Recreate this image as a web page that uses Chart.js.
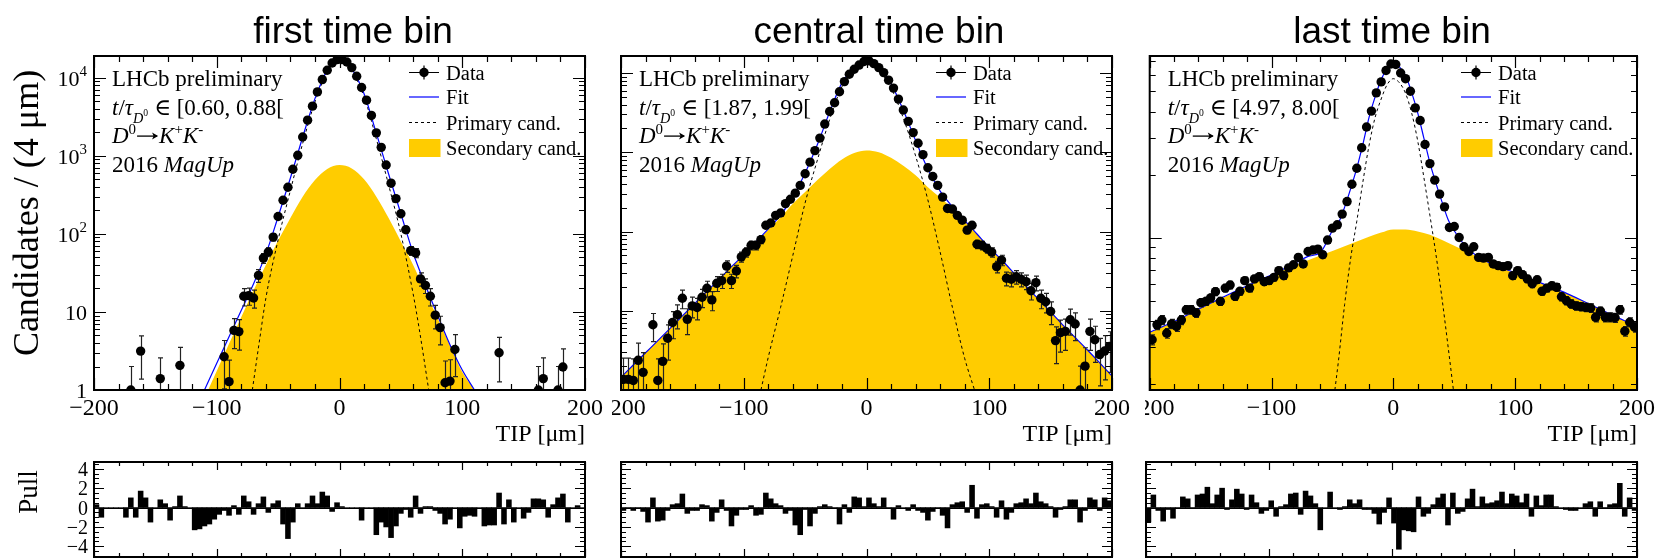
<!DOCTYPE html>
<html>
<head>
<meta charset="utf-8">
<script src="https://cdn.jsdelivr.net/npm/chart.js@4/dist/chart.umd.min.js"></script>
<style>
  body { margin: 0; background: #fff; }
  #wrap { position: relative; width: 1655px; height: 559px; overflow: hidden; background: #fff; }
  #wrap canvas { position: absolute; }
</style>
</head>
<body>
<div id="wrap">
  <canvas id="m1" width="612" height="455" style="left:0;top:0"></canvas>
  <canvas id="m2" width="530" height="455" style="left:612px;top:0"></canvas>
  <canvas id="m3" width="510" height="455" style="left:1145px;top:0"></canvas>
  <canvas id="p1" width="612" height="104" style="left:0;top:455px"></canvas>
  <canvas id="p2" width="530" height="104" style="left:612px;top:455px"></canvas>
  <canvas id="p3" width="510" height="104" style="left:1145px;top:455px"></canvas>
</div>
<script>
/* TIP fits in three decay-time bins */

// 4 um bins from -200 to 200
const tipBins = Array.from({ length: 100 }, (_, i) => -198 + 4 * i);

const panelTitles = ['first time bin', 'central time bin', 'last time bin'];
const timeRanges = ['[0.60, 0.88[', '[1.87, 1.99[', '[4.97, 8.00['];

const tipTicks = [-200, -100, 0, 100, 200];
const tipTickLabels = ['\u2212200', '\u2212100', '0', '100', '200'];
const tipMinorTicks = [-200, -180, -160, -140, -120, -100, -80, -60, -40, -20, 0,
  20, 40, 60, 80, 100, 120, 140, 160, 180, 200];
const countTicks = [1, 10, 100, 1000, 10000];
const countTickLabels = [['1', ''], ['10', ''], ['10', '2'], ['10', '3'], ['10', '4']];
const pullTicks = [-4, -2, 0, 2, 4];
const pullTickLabels = ['\u22124', '\u22122', '0', '2', '4'];

/* first time bin */
const data1 = [null, null, null, null, null, null, null, 1.0, null, 3.15,
  null, null, null, 1.4, null, null, null, 2.07, null, null,
  null, null, null, null, null, null, 2.67, 1.28, 5.8, 5.6,
  15.9, 16.2, 15.1, 29.4, 49, 58.6, 91, 167, 270, 396,
  672, 1015, 1740, 2865, 4330, 6590, 9480, 12470, 15450, 17070,
  17070, 15920, 13490, 10450, 7500, 5160, 3290, 1970, 1283, 763,
  446, 283, 181, 113, 61, 57, 26.5, 21.9, 15.9, 9.1,
  6.3, 1.24, 1.3, 3.3, null, null, null, null, null, null,
  null, null, 3.0, null, null, null, null, null, null, null,
  1.0, 1.4, null, null, 1.0, 1.97, null, null, null, null];
const fitX1 = [-110, -100, -90, -80, -70, -60, -50, -40, -30, -20, -10, -5, 0, 5, 10,
  20, 30, 40, 50, 60, 70, 80, 90, 100, 110];
const fitY1 = [1, 2.2, 4.8, 10.5, 23, 55, 166, 520, 1740, 5400, 12600, 16000, 17600, 16100, 13100,
  6250, 1950, 585, 181, 57, 22, 9, 3.8, 1.8, 1];
const primX1 = [-71, -65, -60, -50, -40, -30, -20, -10, -5, 0, 5, 10, 20, 30, 40, 50, 60, 65, 72.7];
const primY1 = [1, 4.5, 15, 84, 360, 1440, 4900, 11900, 15200, 16840, 15400, 12400, 5750, 1650, 425, 100, 17, 6, 1];
const secX1 = [-107, -100, -90, -80, -70, -60, -50, -40, -30, -20, -10, 0, 10, 20, 30, 40,
  50, 60, 70, 80, 90, 100, 110];
const secY1 = [1, 1.75, 3.9, 8.6, 19, 40, 82, 160, 300, 490, 680, 760, 690, 500, 300, 160,
  80, 40, 18, 8.3, 3.7, 1.7, 1];
const pull1 = [0.3, -1.0, 0, 0, 0, 0, -1.0, 1.0, -1.0, 1.7,
  1.0, -1.5, 0, 0.8, 0.4, -1.3, 0.1, 1.2, 0.1, 0,
  -2.3, -2.2, -1.9, -1.7, -1.2, -0.7, -0.3, -0.8, 0.2, -0.7,
  1.2, 0.6, -0.7, 0.4, 1.1, -0.5, 0.4, 0.7, -1.7, -3.2,
  -1.5, 0.4, 0, 0.4, 1.2, 0.4, 1.6, 1.2, -0.4, 0.5,
  0.1, 0, 0, 0, -1.3, 0, 0, -2.8, -1.5, -2.0,
  -3.1, -1.9, -0.6, -0.2, -1.0, 1.2, -0.6, 0.1, 0.1, -0.3,
  -0.6, -1.7, -1.2, 0, -2.1, -0.9, -0.8, -0.9, 0, -1.9,
  -1.8, -1.8, 1.5, -1.7, 0.8, -1.5, 0, -1.1, -0.5, 0.9,
  0.9, 0.8, -1.0, 0.3, 1.0, 1.4, -1.5, 0, 0.2, 0];

/* central time bin */
const data2 = [1.36, 1.36, 1.32, 2.37, 1.67, null, 6.65, 1.32, 2.3, 4.5,
  7.1, 8.9, 14.4, 7.8, 11.5, 11, 14.8, 19.2, 13.7, 22.2,
  24, 36.6, 24, 31.7, 47.9, 55, 67, 67, 79, 120,
  128, 160, 171, 225, 255, 305, 382, 536, 750, 1050,
  1510, 2270, 3270, 4210, 5800, 7800, 9660, 11170, 12600, 14000,
  14300, 13130, 11700, 10120, 8120, 6450, 4690, 3410, 2455, 1770,
  1300, 935, 637, 495, 382, 272, 195, 192, 160, 139,
  104, 120, 69, 67, 61, 55, 36, 43.6, 25.7, 25,
  26.9, 25, 23.3, 17.9, 22.6, 14.4, 13, 9.8, 4.2, 5.3,
  5.5, 7.7, 6.8, 1.0, 2.0, 5.5, 4.3, 2.8, 3.1, 3.55];
const fitX2 = [-200, -190, -180, -170, -160, -150, -140, -130, -120, -110, -100, -90, -80, -70,
  -60, -50, -40, -30, -20, -10, -5, 0, 5, 10, 20, 30, 40, 50, 60, 70, 80, 90, 100,
  110, 120, 130, 140, 150, 160, 170, 180, 190, 200];
const fitY2 = [1.45, 2.07, 2.95, 4.2, 6.0, 8.6, 12.3, 17.6, 25, 36, 51, 74, 108, 161,
  274, 546, 1250, 3220, 7510, 11600, 13900, 14600, 13800, 11900, 7350, 3380, 1410, 613, 324, 206, 137, 93, 63,
  44, 30, 20.4, 14, 9.7, 6.6, 4.6, 3.2, 2.2, 1.5];
const primX2 = [-86, -80, -70, -60, -50, -40, -30, -20, -10, -5, 0, 5, 10, 20, 30, 40, 50, 60, 70, 80, 88];
const primY2 = [1, 2.6, 11, 50, 230, 800, 2600, 6700, 10600, 12900, 13550, 12800, 10900, 6500, 2700, 900, 250, 55, 11, 2.5, 1];
const secX2 = [-200, -190, -180, -170, -160, -150, -140, -130, -120, -110, -100, -90, -80, -70,
  -60, -50, -40, -30, -20, -10, 0, 10, 20, 30, 40, 50, 60, 70, 80, 90, 100,
  110, 120, 130, 140, 150, 160, 170, 180, 190, 200];
const secY2 = [1.45, 2.07, 2.95, 4.2, 6.0, 8.6, 12.3, 17.6, 25, 36, 51, 73, 105, 150,
  224, 316, 447, 617, 813, 977, 1050, 1000, 851, 676, 513, 363, 269, 195, 135, 93, 63,
  44, 30, 20.4, 14, 9.7, 6.6, 4.6, 3.2, 2.2, 1.5];
const pull2 = [-0.3, -0.1, -0.3, -0.1, -0.4, -1.5, 1.0, -1.4, -1.3, -0.3,
  0.3, 0.4, 1.4, -0.6, -0.3, -0.3, 0.3, 0.2, -1.4, -0.5,
  0.8, -0.3, -1.9, -0.8, -0.2, -0.2, 0.2, -0.8, -0.7, 1.5,
  0.9, 0.4, 0.2, -0.6, -0.3, -1.8, -2.8, -0.2, -1.9, -0.6,
  0.1, 0.3, 0.1, -0.1, -1.7, 0.3, -0.5, 1.1, 1.0, 0.1,
  1.0, 0.4, 0.1, 1.0, -0.1, -1.2, 0.2, 0, -0.3, 0.3,
  -0.3, -0.5, -1.3, -0.4, -0.1, -0.8, -2.1, 0.3, 0.5, 0.6,
  -0.5, 2.3, -1.1, 0.3, 0.4, 0.1, -1.0, 0.7, -1.2, -0.5,
  0.4, 0.5, 0.9, 0.4, 1.5, 0.6, 0.4, 0.1, -1.0, -0.2,
  0.1, 0.8, 0.8, -1.5, -0.3, 1.0, 0.8, -0.3, 1.0, 0.7];

/* last time bin */
const data3 = [326, 384, 405, 350, 388, 377, 405, 453, 453, 438,
  490, 497, 516, 553, 497, 575, 595, 525, 555, 624,
  575, 636, 652, 617, 624, 647, 697, 659, 718, 743,
  806, 750, 860, 874, 883, 830, 975, 1112, 1153, 1297,
  1489, 1802, 2148, 2692, 3379, 4027, 4920, 5550, 6290, 6760,
  6720, 6120, 5750, 5010, 4170, 3630, 2790, 2260, 1884, 1616,
  1405, 1120, 1132, 1003, 906, 860, 906, 806, 800, 806,
  750, 736, 728, 736, 659, 697, 667, 636, 603, 630,
  555, 575, 590, 580, 523, 501, 483, 473, 469, 465,
  462, 417, 446, 417, 417, 415, 453, 358, 395, 374];
const fitX3 = [-200, -180, -160, -140, -120, -100, -80, -70, -60, -50, -45, -40, -35, -30, -25,
  -20, -15, -10, -5, 0, 5, 10, 15, 20, 25, 30, 35, 40, 45, 50, 55, 60, 70, 80,
  100, 120, 140, 160, 180, 200];
const fitY3 = [354, 398, 456, 520, 590, 665, 760, 815, 850, 1080, 1180, 1400, 1720, 2150, 2800,
  3750, 4700, 5700, 6450, 6850, 6550, 5950, 4950, 3950, 3000, 2280, 1820, 1480, 1220, 1080, 980, 900, 810, 755,
  680, 612, 550, 485, 427, 376];
const primX3 = [-48, -45, -40, -35, -30, -25, -20, -15, -10, -5, 0, 5, 10, 15, 20, 25, 30, 35, 40, 45, 49.3];
const primY3 = [187.5, 260, 480, 800, 1200, 1850, 2750, 3750, 4600, 5400, 5750, 5500, 4900, 3950, 2900, 1950, 1280, 830, 510, 300, 187.5];
const secX3 = [-200, -180, -160, -140, -120, -100, -80, -60, -40, -20, -10, 0, 10, 20, 30, 40,
  60, 80, 100, 120, 140, 160, 180, 200];
const secY3 = [354, 398, 456, 517, 586, 660, 741, 822, 912, 1012, 1059, 1096, 1096, 1072, 1035, 977,
  861, 753, 676, 610, 550, 485, 427, 376];
const pull3 = [-1.5, 1.3, -0.3, -1.4, -0.2, -1.1, -0.1, 1.1, 0.9, -0.1,
  1.3, 1.4, 2.1, 0.4, 1.3, 2.0, -0.2, 0.8, 1.9, 1.4,
  -0.2, 1.3, 0.5, -0.6, -0.3, 0.7, -0.9, 0.1, 0.3, 1.4,
  1.5, -0.7, 1.7, 1.2, 0.4, -2.3, 0, 1.6, 0, -0.2,
  0.1, 0.8, 0.4, 0.8, -0.2, -0.2, -0.6, -1.7, -0.5, 1.0,
  -1.6, -4.3, -2.3, -2.4, -2.5, 1.1, -0.9, -0.6, 0.3, 1.0,
  1.4, -1.8, 1.5, -0.6, -0.4, 0.9, 1.9, 0.1, 1.1, 0.4,
  0.5, 0.7, 1.6, 0.4, 1.4, 1.2, 0.5, 1.4, -0.9, 1.2,
  0.2, 1.3, 1.3, 0.1, 0, -0.2, -0.3, -0.3, 0, 0.4,
  0.6, -0.9, 0.6, -0.1, 0.3, 0.4, 2.5, -0.9, 1.0, -0.3];

const SERIF = '"Liberation Serif", "DejaVu Serif", serif';
const SANS = '"Liberation Sans", Arial, sans-serif';
const YELLOW = '#ffcc00';

const pts = (xs, ys) => xs.map((x, i) => ({ x: x, y: ys[i] }));
const binPts = (vals) => tipBins.map((x, i) => ({ x: x, y: vals[i] })).filter(p => p.y !== null);

// text with italics / sub- and superscripts, parts = [{t, i, s, dy}]
// a part with arrow: true is a drawn right arrow of width p.w em
function partWidth(ctx, p, size) {
  if (p.arrow) return p.w * size;
  ctx.font = (p.i ? 'italic ' : '') + (size * (p.s || 1)) + 'px ' + SERIF;
  return ctx.measureText(p.t).width;
}
function richWidth(ctx, parts, size) {
  return parts.reduce((w, p) => w + partWidth(ctx, p, size), 0);
}
function drawRich(ctx, x, y, parts, size) {
  parts.forEach(p => {
    const w = partWidth(ctx, p, size);
    if (p.arrow) {
      const ya = y - 0.3 * size;
      ctx.save();
      ctx.lineWidth = 1.3;
      ctx.beginPath();
      ctx.moveTo(x + 1, ya); ctx.lineTo(x + w - 2, ya);
      ctx.stroke();
      ctx.beginPath();
      ctx.moveTo(x + w - 1, ya);
      ctx.lineTo(x + w - 7, ya - 3.5);
      ctx.lineTo(x + w - 5.5, ya);
      ctx.lineTo(x + w - 7, ya + 3.5);
      ctx.closePath();
      ctx.fill();
      ctx.restore();
    } else {
      ctx.fillText(p.t, x, y + (p.dy || 0) * size);
    }
    x += w;
  });
}

// vertical Poisson error bars under the data markers
const errorBars = {
  id: 'errorBars',
  beforeDatasetDraw(chart, args) {
    if (args.index !== 0) return;
    const { ctx, chartArea: a } = chart;
    const ys = chart.scales.y;
    const ds = chart.data.datasets[0].data;
    ctx.save();
    ctx.beginPath();
    ctx.rect(a.left, a.top, a.right - a.left, a.bottom - a.top);
    ctx.clip();
    ctx.strokeStyle = '#222';
    ctx.lineWidth = 1.2;
    ctx.beginPath();
    args.meta.data.forEach((el, i) => {
      const v = ds[i].y;
      const e = Math.sqrt(v);
      const px = Math.round(el.x) + 0.5;
      const hi = ys.getPixelForValue(v + e);
      const lo = v - e > ys.min ? ys.getPixelForValue(v - e) : a.bottom + 2;
      ctx.moveTo(px, lo); ctx.lineTo(px, hi);
      ctx.moveTo(px - 2.5, hi); ctx.lineTo(px + 2.5, hi);
      if (v - e > ys.min) { ctx.moveTo(px - 2.5, lo); ctx.lineTo(px + 2.5, lo); }
    });
    ctx.stroke();
    ctx.restore();
  }
};

function mainDecor(cfg) {
  return {
    id: 'mainDecor',
    afterDraw(chart) {
      const { ctx, chartArea: a } = chart;
      const xs = chart.scales.x, ys = chart.scales.y;
      ctx.save();
      ctx.fillStyle = '#000';
      ctx.strokeStyle = '#000';

      // inward ticks on all four sides
      ctx.lineWidth = 1.2;
      ctx.beginPath();
      tipMinorTicks.forEach(v => {
        const px = Math.round(xs.getPixelForValue(v)) + 0.5;
        const len = tipTicks.includes(v) ? 12 : 6;
        ctx.moveTo(px, a.bottom); ctx.lineTo(px, a.bottom - len);
        ctx.moveTo(px, a.top); ctx.lineTo(px, a.top + len);
      });
      const d0 = Math.floor(Math.log10(ys.min)), d1 = Math.ceil(Math.log10(ys.max));
      for (let d = d0; d <= d1; d++) {
        for (let m = 1; m <= 9; m++) {
          const v = m * Math.pow(10, d);
          if (v < ys.min * 0.999 || v > ys.max) continue;
          const py = Math.round(ys.getPixelForValue(v)) + 0.5;
          const len = m === 1 ? 12 : 6;
          ctx.moveTo(a.left, py); ctx.lineTo(a.left + len, py);
          ctx.moveTo(a.right, py); ctx.lineTo(a.right - len, py);
        }
      }
      ctx.stroke();
      ctx.lineWidth = 2;
      ctx.strokeRect(a.left, a.top, a.right - a.left, a.bottom - a.top);

      // x axis
      ctx.font = '24px ' + SERIF;
      ctx.textAlign = 'center';
      ctx.textBaseline = 'alphabetic';
      tipTicks.forEach((v, i) => ctx.fillText(tipTickLabels[i], xs.getPixelForValue(v), a.bottom + 25));
      ctx.textAlign = 'right';
      ctx.fillText('TIP [\u03bcm]', a.right, a.bottom + 51);

      // y axis labels only on the first panel
      if (cfg.yLabels) {
        ctx.textAlign = 'left';
        countTicks.forEach((v, i) => {
          const parts = [{ t: countTickLabels[i][0] }];
          if (countTickLabels[i][1]) parts.push({ t: countTickLabels[i][1], s: 0.68, dy: -0.45 });
          const w = richWidth(ctx, parts, 22);
          drawRich(ctx, a.left - 7 - w, ys.getPixelForValue(v) + 8, parts, 22);
        });
        ctx.save();
        ctx.translate(38, 213);
        ctx.rotate(-Math.PI / 2);
        ctx.textAlign = 'center';
        ctx.font = '36px ' + SERIF;
        ctx.fillText('Candidates / (4 \u03bcm)', 0, 0);
        ctx.restore();
      }

      // panel title
      ctx.font = '37px ' + SANS;
      ctx.textAlign = 'center';
      ctx.fillText(cfg.title, cfg.titleX, 43);

      // labels in the top left corner
      ctx.textAlign = 'left';
      const tx = a.left + 18, fs = 23;
      drawRich(ctx, tx, a.top + 30, [{ t: 'LHCb preliminary' }], fs);
      drawRich(ctx, tx, a.top + 58.5, [
        { t: 't', i: 1 }, { t: '/' }, { t: '\u03c4', i: 1 },
        { t: 'D', i: 1, s: 0.62, dy: 0.36 }, { t: '0', s: 0.42, dy: 0.06 },
        { t: ' \u2208 ' + cfg.range }], fs);
      drawRich(ctx, tx, a.top + 87, [
        { t: 'D', i: 1 }, { t: '0', s: 0.65, dy: -0.4 }, { arrow: true, w: 1.0 },
        { t: 'K', i: 1 }, { t: '+', s: 0.65, dy: -0.4 },
        { t: 'K', i: 1 }, { t: '-', s: 0.65, dy: -0.4 }], fs);
      drawRich(ctx, tx, a.top + 115.5, [{ t: '2016 ' }, { t: 'MagUp', i: 1 }], fs);

      // legend
      const lx0 = a.right - 176, lx1 = a.right - 146, ltx = a.right - 139;
      const rows = [a.top + 16.5, a.top + 41, a.top + 66.5, a.top + 92];
      ctx.lineWidth = 1.2;
      ctx.beginPath();
      ctx.moveTo(lx0, rows[0]); ctx.lineTo(lx1, rows[0]);
      ctx.moveTo((lx0 + lx1) / 2, rows[0] - 7); ctx.lineTo((lx0 + lx1) / 2, rows[0] + 7);
      ctx.stroke();
      ctx.beginPath();
      ctx.arc((lx0 + lx1) / 2, rows[0], 4.7, 0, Math.PI * 2);
      ctx.fill();
      ctx.strokeStyle = '#0000ff';
      ctx.beginPath(); ctx.moveTo(lx0, rows[1]); ctx.lineTo(lx1, rows[1]); ctx.stroke();
      ctx.strokeStyle = '#000';
      ctx.lineWidth = 1;
      ctx.setLineDash([3, 3]);
      ctx.beginPath(); ctx.moveTo(lx0, rows[2]); ctx.lineTo(lx1, rows[2]); ctx.stroke();
      ctx.setLineDash([]);
      ctx.fillStyle = YELLOW;
      ctx.fillRect(lx0, rows[3] - 9, 31.5, 18);
      ctx.fillStyle = '#000';
      ctx.font = '20.5px ' + SERIF;
      ['Data', 'Fit', 'Primary cand.', 'Secondary cand.'].forEach((s, i) => ctx.fillText(s, ltx, rows[i] + 7));
      ctx.restore();
    }
  };
}

function pullDecor(cfg) {
  return {
    id: 'pullDecor',
    afterDraw(chart) {
      const { ctx, chartArea: a } = chart;
      const xs = chart.scales.x, ys = chart.scales.y;
      ctx.save();
      ctx.strokeStyle = '#000';
      ctx.fillStyle = '#000';
      const y0 = Math.round(ys.getPixelForValue(0)) + 0.5;
      ctx.lineWidth = 1;
      ctx.beginPath(); ctx.moveTo(a.left, y0); ctx.lineTo(a.right, y0); ctx.stroke();

      ctx.lineWidth = 1.2;
      ctx.beginPath();
      tipMinorTicks.forEach(v => {
        const px = Math.round(xs.getPixelForValue(v)) + 0.5;
        const len = tipTicks.includes(v) ? 8 : 4;
        ctx.moveTo(px, a.bottom); ctx.lineTo(px, a.bottom - len);
        ctx.moveTo(px, a.top); ctx.lineTo(px, a.top + len);
      });
      for (let v = -5; v <= 4.5; v += 0.5) {
        const py = Math.round(ys.getPixelForValue(v)) + 0.5;
        const len = pullTicks.includes(v) ? 10 : 5;
        ctx.moveTo(a.left, py); ctx.lineTo(a.left + len, py);
        ctx.moveTo(a.right, py); ctx.lineTo(a.right - len, py);
      }
      ctx.stroke();
      ctx.lineWidth = 2;
      ctx.strokeRect(a.left, a.top, a.right - a.left, a.bottom - a.top);

      if (cfg.yLabels) {
        ctx.font = '20px ' + SERIF;
        ctx.textAlign = 'right';
        pullTicks.forEach((v, i) => ctx.fillText(pullTickLabels[i], a.left - 6, ys.getPixelForValue(v) + 7));
        ctx.save();
        ctx.translate(37, 37);
        ctx.rotate(-Math.PI / 2);
        ctx.textAlign = 'center';
        ctx.font = '27px ' + SERIF;
        ctx.fillText('Pull', 0, 0);
        ctx.restore();
      }
      ctx.restore();
    }
  };
}

function drawMain(id, cfg) {
  const ctx = document.getElementById(id).getContext('2d');
  return new Chart(ctx, {
    type: 'line',
    data: {
      datasets: [
        {
          label: 'Data',
          data: binPts(cfg.data),
          showLine: false,
          pointRadius: 4.7,
          pointBackgroundColor: '#000',
          pointBorderWidth: 0,
          order: 0,
        },
        {
          label: 'Fit',
          data: pts(cfg.fitX, cfg.fitY),
          borderColor: '#0000ff',
          borderWidth: 1.2,
          pointRadius: 0,
          cubicInterpolationMode: 'monotone',
          order: 1,
        },
        {
          label: 'Primary cand.',
          data: pts(cfg.primX, cfg.primY),
          borderColor: '#000',
          borderWidth: 1,
          borderDash: [3, 3],
          pointRadius: 0,
          cubicInterpolationMode: 'monotone',
          order: 2,
        },
        {
          label: 'Secondary cand.',
          data: pts(cfg.secX, cfg.secY),
          borderWidth: 0,
          borderColor: YELLOW,
          backgroundColor: YELLOW,
          fill: 'start',
          pointRadius: 0,
          cubicInterpolationMode: 'monotone',
          order: 3,
        },
      ],
    },
    options: {
      responsive: false,
      animation: false,
      devicePixelRatio: 1,
      layout: { padding: cfg.pad },
      scales: {
        x: { type: 'linear', min: -200, max: 200, display: false },
        y: { type: 'logarithmic', min: cfg.ymin, max: cfg.ymax, display: false },
      },
      plugins: { legend: { display: false }, tooltip: { enabled: false } },
    },
    plugins: [errorBars, mainDecor(cfg)],
  });
}

function drawPull(id, pulls, pad, yLabels) {
  const ctx = document.getElementById(id).getContext('2d');
  return new Chart(ctx, {
    type: 'bar',
    data: {
      datasets: [{
        data: tipBins.map((x, i) => ({ x: x, y: pulls[i] })),
        backgroundColor: '#000',
        borderWidth: 0,
        barPercentage: 1,
        categoryPercentage: 1,
      }],
    },
    options: {
      responsive: false,
      animation: false,
      devicePixelRatio: 1,
      layout: { padding: pad },
      scales: {
        x: { type: 'linear', min: -200, max: 200, offset: false, display: false },
        y: { type: 'linear', min: -5.1, max: 4.7, display: false },
      },
      plugins: { legend: { display: false }, tooltip: { enabled: false } },
    },
    plugins: [pullDecor({ yLabels: yLabels })],
  });
}

drawMain('m1', {
  data: data1, fitX: fitX1, fitY: fitY1, primX: primX1, primY: primY1, secX: secX1, secY: secY1,
  ymin: 1, ymax: 19000, title: panelTitles[0], titleX: 353, range: timeRanges[0], yLabels: true,
  pad: { left: 94, right: 27, top: 56, bottom: 65 },
});
drawMain('m2', {
  data: data2, fitX: fitX2, fitY: fitY2, primX: primX2, primY: primY2, secX: secX2, secY: secY2,
  ymin: 1, ymax: 16400, title: panelTitles[1], titleX: 267, range: timeRanges[1], yLabels: false,
  pad: { left: 9, right: 30, top: 56, bottom: 65 },
});
drawMain('m3', {
  data: data3, fitX: fitX3, fitY: fitY3, primX: primX3, primY: primY3, secX: secX3, secY: secY3,
  ymin: 187.5, ymax: 7380, title: panelTitles[2], titleX: 247, range: timeRanges[2], yLabels: false,
  pad: { left: 1, right: 18, top: 56, bottom: 65 },
});

drawPull('p1', pull1, { left: 94, right: 27, top: 7, bottom: 2 }, true);
drawPull('p2', pull2, { left: 9, right: 30, top: 7, bottom: 2 }, false);
drawPull('p3', pull3, { left: 1, right: 18, top: 7, bottom: 2 }, false);
</script>
</body>
</html>
